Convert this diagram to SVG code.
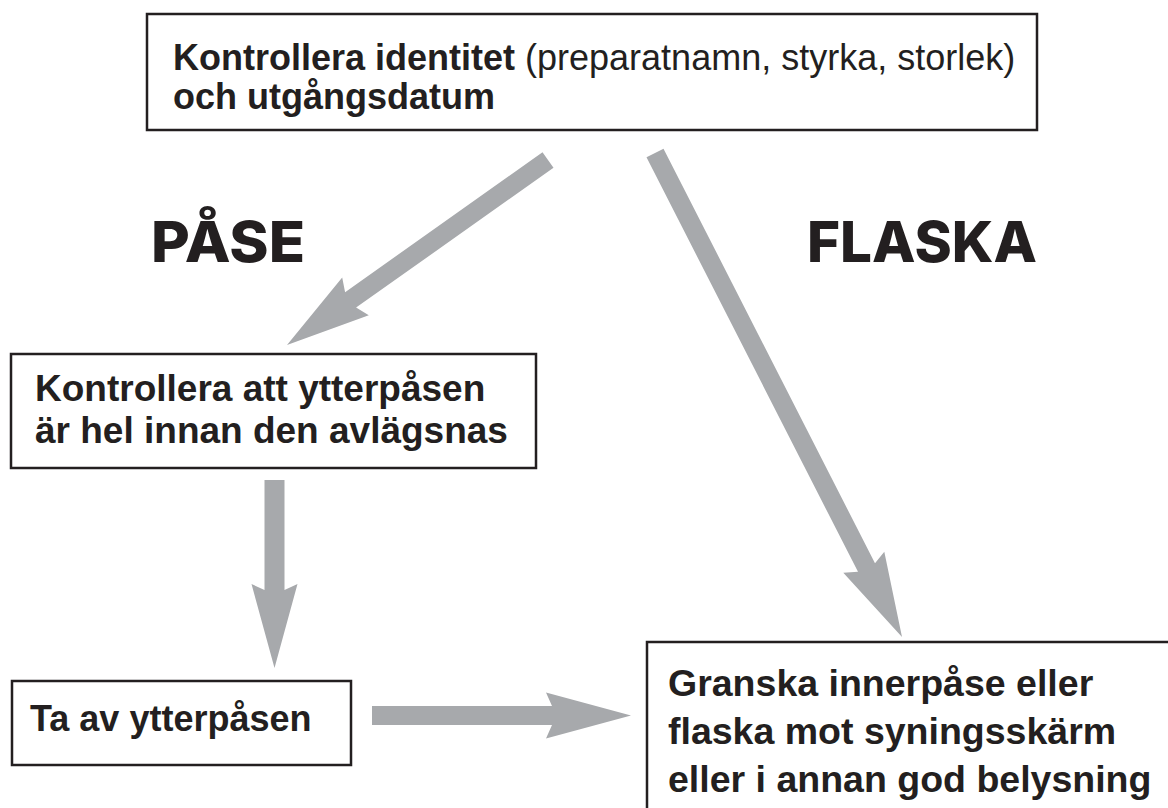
<svg xmlns="http://www.w3.org/2000/svg" width="1168" height="808" viewBox="0 0 1168 808">
<style>
.box{fill:#fff;stroke:#231f20;stroke-width:2.5}
.t{font-family:"Liberation Sans",Arial,sans-serif;fill:#231f20}
.b{font-weight:bold}
.big{font-family:Inter,"Liberation Sans",sans-serif;font-weight:800;font-size:57px;fill:#231f20}
.arr{fill:#a7a9ac}
</style>
<rect width="1168" height="808" fill="#fff"/>
<g id="connectors">
<polygon class="arr" points="542.5,152.2 345.1,292.2 342.2,277.6 287,345 368.8,315.2 356.1,307.6 553.5,167.8"/>
<polygon class="arr" points="646.5,157.3 858,571.8 843.3,572.7 902,637 884.3,551.7 875,563.2 663.5,148.7"/>
<polygon class="arr" points="264.5,480 264.5,590 251.5,584 274.5,668 297.5,584 284.5,590 284.5,480"/>
<polygon class="arr" points="372,706 552,706 546,692.5 631,715.5 546,738.5 552,725 372,725"/>
</g>
<g id="label-pase"><text class="big" x="151" y="262" textLength="154" lengthAdjust="spacingAndGlyphs">PÅSE</text></g>
<g id="label-flaska"><text class="big" x="807" y="262" textLength="230" lengthAdjust="spacingAndGlyphs">FLASKA</text></g>
<g id="node-top">
<rect class="box" x="147" y="14" width="890" height="116"/>
<text class="t" x="173" y="70" font-size="36"><tspan class="b">Kontrollera identitet</tspan> (preparatnamn, styrka, storlek)</text>
<text class="t b" x="173" y="109" font-size="36">och utgångsdatum</text>
</g>
<g id="node-check">
<rect class="box" x="11" y="354" width="525" height="114"/>
<text class="t b" x="35" y="401" font-size="37">Kontrollera att ytterpåsen</text>
<text class="t b" x="35" y="443" font-size="37">är hel innan den avlägsnas</text>
</g>
<g id="node-remove">
<rect class="box" x="12" y="681" width="339" height="84"/>
<text class="t b" x="30" y="731" font-size="36">Ta av ytterpåsen</text>
</g>
<g id="node-inspect">
<rect class="box" x="647" y="642" width="600" height="300"/>
<text class="t b" x="668" y="696" font-size="37.5">Granska innerpåse eller</text>
<text class="t b" x="668" y="744" font-size="37.5">flaska mot syningsskärm</text>
<text class="t b" x="668" y="792" font-size="37.5">eller i annan god belysning</text>
</g>
</svg>
